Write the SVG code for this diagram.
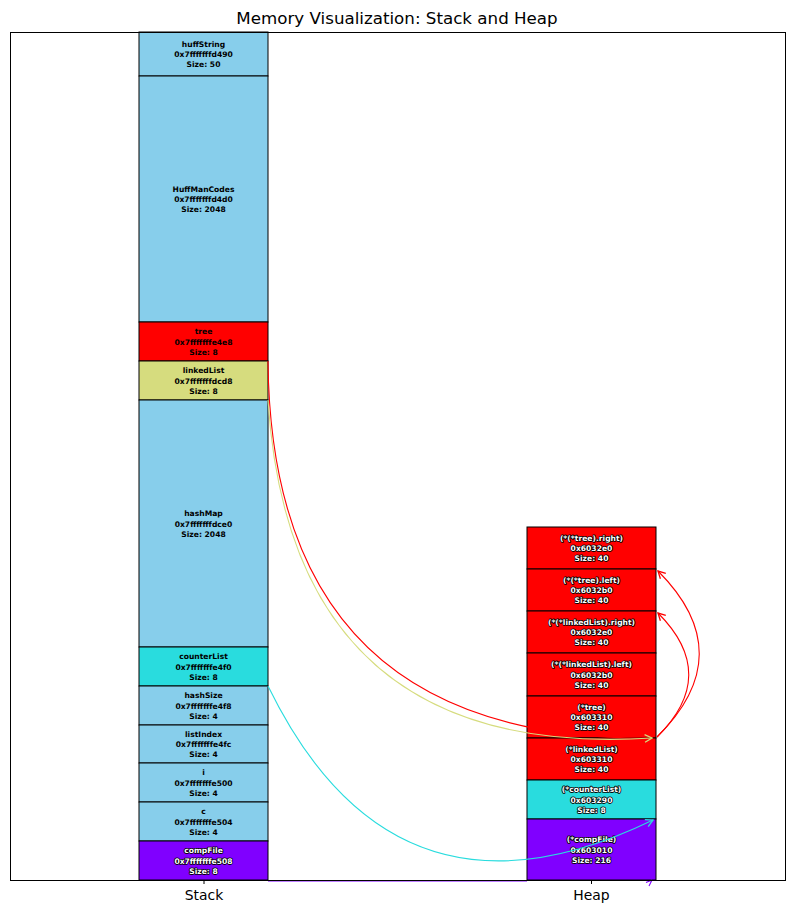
<svg xmlns="http://www.w3.org/2000/svg" width="794" height="913" viewBox="0 0 794 913">
<style>
.box{stroke:#000;stroke-width:1}
.sky{fill:#87ceeb}
.red{fill:#ff0000}
.yel{fill:#d6dc7e}
.cyn{fill:#29dcde}
.pur{fill:#8000ff}
.lbl{font-family:"DejaVu Sans",sans-serif;font-weight:bold;font-size:7.6px;text-anchor:middle;fill:#000}
.out{fill:#fff;stroke:#000;stroke-width:1.6px;paint-order:stroke;stroke-linejoin:round}
.conn{fill:none;stroke-width:1.1}
.tick{font-family:"DejaVu Sans",sans-serif;font-size:13.9px;text-anchor:middle;fill:#000}
</style>
<defs>
<marker id="mr" markerUnits="userSpaceOnUse" markerWidth="12" markerHeight="12" refX="0" refY="0" viewBox="-8 -5 10 10" orient="auto" overflow="visible"><path d="M-6,-3.2 L0,0 L-6,3.2" fill="none" stroke="#ff0000" stroke-width="1.1"/></marker>
<marker id="my" markerUnits="userSpaceOnUse" markerWidth="12" markerHeight="12" refX="0" refY="0" viewBox="-8 -5 10 10" orient="auto" overflow="visible"><path d="M-6,-3.2 L0,0 L-6,3.2" fill="none" stroke="#d6dc7e" stroke-width="1.1"/></marker>
<marker id="mc" markerUnits="userSpaceOnUse" markerWidth="12" markerHeight="12" refX="0" refY="0" viewBox="-8 -5 10 10" orient="auto" overflow="visible"><path d="M-6,-3.2 L0,0 L-6,3.2" fill="none" stroke="#29dcde" stroke-width="1.1"/></marker>
</defs>
<rect width="794" height="913" fill="#fff"/>
<text x="397" y="24" font-family="DejaVu Sans, sans-serif" font-size="16.7px" text-anchor="middle">Memory Visualization: Stack and Heap</text>

<g id="stack">
<g id="huffString"><rect class="box sky" x="139" y="32" width="129" height="44"/><text class="lbl" x="203.5" y="54"><tspan x="203.5" dy="-7.3">huffString</tspan><tspan x="203.5" dy="10.3">0x7fffffffd490</tspan><tspan x="203.5" dy="10.3">Size: 50</tspan></text></g>
<g id="HuffManCodes"><rect class="box sky" x="139" y="76" width="129" height="246"/><text class="lbl" x="203.5" y="199"><tspan x="203.5" dy="-7.3">HuffManCodes</tspan><tspan x="203.5" dy="10.3">0x7fffffffd4d0</tspan><tspan x="203.5" dy="10.3">Size: 2048</tspan></text></g>
<g id="tree"><rect class="box red" x="139" y="322" width="129" height="39"/><text class="lbl" x="203.5" y="341.5"><tspan x="203.5" dy="-7.3">tree</tspan><tspan x="203.5" dy="10.3">0x7fffffffe4e8</tspan><tspan x="203.5" dy="10.3">Size: 8</tspan></text></g>
<g id="linkedList"><rect class="box yel" x="139" y="361" width="129" height="39"/><text class="lbl" x="203.5" y="380.5"><tspan x="203.5" dy="-7.3">linkedList</tspan><tspan x="203.5" dy="10.3">0x7fffffffdcd8</tspan><tspan x="203.5" dy="10.3">Size: 8</tspan></text></g>
<g id="hashMap"><rect class="box sky" x="139" y="400" width="129" height="247"/><text class="lbl" x="203.5" y="523.5"><tspan x="203.5" dy="-7.3">hashMap</tspan><tspan x="203.5" dy="10.3">0x7fffffffdce0</tspan><tspan x="203.5" dy="10.3">Size: 2048</tspan></text></g>
<g id="counterList"><rect class="box cyn" x="139" y="647" width="129" height="39"/><text class="lbl" x="203.5" y="666.5"><tspan x="203.5" dy="-7.3">counterList</tspan><tspan x="203.5" dy="10.3">0x7fffffffe4f0</tspan><tspan x="203.5" dy="10.3">Size: 8</tspan></text></g>
<g id="hashSize"><rect class="box sky" x="139" y="686" width="129" height="39"/><text class="lbl" x="203.5" y="705.5"><tspan x="203.5" dy="-7.3">hashSize</tspan><tspan x="203.5" dy="10.3">0x7fffffffe4f8</tspan><tspan x="203.5" dy="10.3">Size: 4</tspan></text></g>
<g id="listIndex"><rect class="box sky" x="139" y="725" width="129" height="38"/><text class="lbl" x="203.5" y="744"><tspan x="203.5" dy="-7.3">listIndex</tspan><tspan x="203.5" dy="10.3">0x7fffffffe4fc</tspan><tspan x="203.5" dy="10.3">Size: 4</tspan></text></g>
<g id="i"><rect class="box sky" x="139" y="763" width="129" height="39"/><text class="lbl" x="203.5" y="782.5"><tspan x="203.5" dy="-7.3">i</tspan><tspan x="203.5" dy="10.3">0x7fffffffe500</tspan><tspan x="203.5" dy="10.3">Size: 4</tspan></text></g>
<g id="c"><rect class="box sky" x="139" y="802" width="129" height="39"/><text class="lbl" x="203.5" y="821.5"><tspan x="203.5" dy="-7.3">c</tspan><tspan x="203.5" dy="10.3">0x7fffffffe504</tspan><tspan x="203.5" dy="10.3">Size: 4</tspan></text></g>
<g id="compFile"><rect class="box pur" x="139" y="841" width="129" height="39"/><text class="lbl out" x="203.5" y="860.5"><tspan x="203.5" dy="-7.3">compFile</tspan><tspan x="203.5" dy="10.3">0x7fffffffe508</tspan><tspan x="203.5" dy="10.3">Size: 8</tspan></text></g>
</g>

<g id="heap">
<g id="h_tree_right"><rect class="box red" x="527" y="527" width="129" height="42"/><text class="lbl out" x="591.5" y="548"><tspan x="591.5" dy="-7.3">(*(*tree).right)</tspan><tspan x="591.5" dy="10.3">0x6032e0</tspan><tspan x="591.5" dy="10.3">Size: 40</tspan></text></g>
<g id="h_tree_left"><rect class="box red" x="527" y="569" width="129" height="42"/><text class="lbl out" x="591.5" y="590"><tspan x="591.5" dy="-7.3">(*(*tree).left)</tspan><tspan x="591.5" dy="10.3">0x6032b0</tspan><tspan x="591.5" dy="10.3">Size: 40</tspan></text></g>
<g id="h_ll_right"><rect class="box red" x="527" y="611" width="129" height="42"/><text class="lbl out" x="591.5" y="632"><tspan x="591.5" dy="-7.3">(*(*linkedList).right)</tspan><tspan x="591.5" dy="10.3">0x6032e0</tspan><tspan x="591.5" dy="10.3">Size: 40</tspan></text></g>
<g id="h_ll_left"><rect class="box red" x="527" y="653" width="129" height="43"/><text class="lbl out" x="591.5" y="674.5"><tspan x="591.5" dy="-7.3">(*(*linkedList).left)</tspan><tspan x="591.5" dy="10.3">0x6032b0</tspan><tspan x="591.5" dy="10.3">Size: 40</tspan></text></g>
<g id="h_tree"><rect class="box red" x="527" y="696" width="129" height="42"/><text class="lbl out" x="591.5" y="717"><tspan x="591.5" dy="-7.3">(*tree)</tspan><tspan x="591.5" dy="10.3">0x603310</tspan><tspan x="591.5" dy="10.3">Size: 40</tspan></text></g>
<g id="h_linkedList"><rect class="box red" x="527" y="738" width="129" height="42"/><text class="lbl out" x="591.5" y="759"><tspan x="591.5" dy="-7.3">(*linkedList)</tspan><tspan x="591.5" dy="10.3">0x603310</tspan><tspan x="591.5" dy="10.3">Size: 40</tspan></text></g>
<g id="h_counterList"><rect class="box cyn" x="527" y="780" width="129" height="39"/><text class="lbl out" x="591.5" y="799.5"><tspan x="591.5" dy="-7.3">(*counterList)</tspan><tspan x="591.5" dy="10.3">0x603290</tspan><tspan x="591.5" dy="10.3">Size: 8</tspan></text></g>
<g id="h_compFile"><rect class="box pur" x="527" y="819" width="129" height="61"/><text class="lbl out" x="591.5" y="849.5"><tspan x="591.5" dy="-7.3">(*compFile)</tspan><tspan x="591.5" dy="10.3">0x603010</tspan><tspan x="591.5" dy="10.3">Size: 216</tspan></text></g>
</g>

<g id="connectors">
<path class="conn" stroke="#ff0000" d="M268,361 Q271.5,741.5 652,738" marker-end="url(#mr)"/>
<path class="conn" stroke="#d6dc7e" d="M268,400 Q291,761 652,738" marker-end="url(#my)"/>
<path class="conn" stroke="#29dcde" d="M268,686 Q394.5,945.5 653,820" marker-end="url(#mc)"/>
<path class="conn" stroke="#ff0000" d="M657,737 Q741,654 658,571" marker-end="url(#mr)"/>
<path class="conn" stroke="#ff0000" d="M657,737 Q720,675 658,613" marker-end="url(#mr)"/>
<path class="conn" stroke="#8000ff" d="M268,881 L527,881"/>
<path class="conn" stroke="#8000ff" d="M646,882.5 L652,880 M649,886 L652,880"/>
</g>

<g id="axes">
<rect x="10.5" y="32.5" width="775" height="848" fill="none" stroke="#000" stroke-width="1"/>
<line x1="204" y1="880" x2="204" y2="884" stroke="#000" stroke-width="1"/>
<line x1="591.5" y1="880" x2="591.5" y2="884" stroke="#000" stroke-width="1"/>
<text class="tick" x="204" y="900">Stack</text>
<text class="tick" x="591.5" y="900">Heap</text>
</g>
</svg>
